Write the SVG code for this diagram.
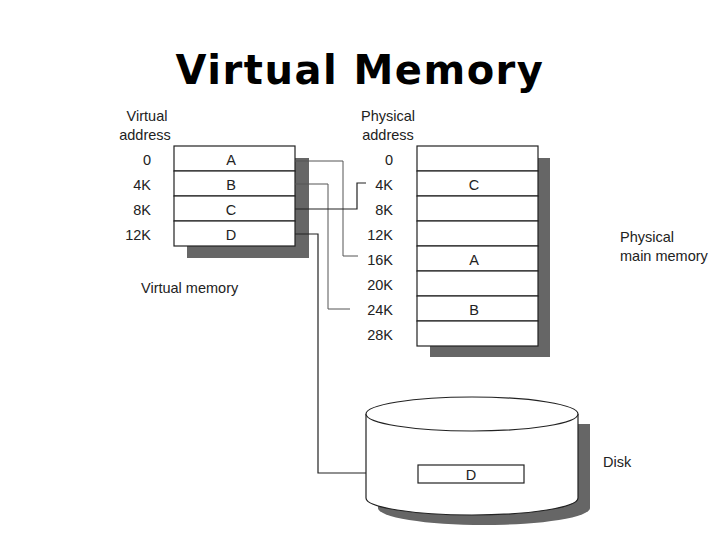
<svg xmlns="http://www.w3.org/2000/svg" width="720" height="540" viewBox="0 0 720 540">
<style>
text{font-family:"Liberation Sans",Arial,sans-serif;font-size:14.5px;fill:#222}
.c{text-anchor:middle}.r{text-anchor:end}
.cell{fill:#fff;stroke:#222;stroke-width:1.2}
.sh{fill:#666}
.ln{fill:none;stroke:#222;stroke-width:1.2}
.lg{fill:none;stroke:#555;stroke-width:1}
</style>
<rect width="720" height="540" fill="#fff"/>
<text x="360" y="84" class="c" style="font-family:'DejaVu Sans',sans-serif;font-size:40px;font-weight:bold;fill:#000;letter-spacing:1.5px">Virtual Memory</text>
<g id="virtual">
<rect class="sh" x="187" y="158" width="122" height="100"/>
<rect class="cell" x="174" y="146" width="121" height="25"/>
<rect class="cell" x="174" y="171" width="121" height="25"/>
<rect class="cell" x="174" y="196" width="121" height="25"/>
<rect class="cell" x="174" y="221" width="121" height="25"/>
<text x="231" y="165" class="c">A</text><text x="231" y="190" class="c">B</text><text x="231" y="215" class="c">C</text><text x="231" y="240" class="c">D</text>
<text x="147" y="121" class="c">Virtual</text><text x="145" y="140" class="c">address</text>
<text x="151" y="165" class="r">0</text><text x="151" y="190" class="r">4K</text><text x="151" y="215" class="r">8K</text><text x="151" y="240" class="r">12K</text>
<text x="141" y="293">Virtual memory</text>
</g>
<g id="physical">
<rect class="sh" x="430" y="158" width="120" height="199"/>
<rect class="cell" x="417" y="146" width="121" height="25"/>
<rect class="cell" x="417" y="171" width="121" height="25"/>
<rect class="cell" x="417" y="196" width="121" height="25"/>
<rect class="cell" x="417" y="221" width="121" height="25"/>
<rect class="cell" x="417" y="246" width="121" height="25"/>
<rect class="cell" x="417" y="271" width="121" height="25"/>
<rect class="cell" x="417" y="296" width="121" height="25"/>
<rect class="cell" x="417" y="321" width="121" height="25"/>
<text x="474" y="190" class="c">C</text><text x="474" y="265" class="c">A</text><text x="474" y="315" class="c">B</text>
<text x="388" y="121" class="c">Physical</text><text x="388" y="140" class="c">address</text>
<text x="393" y="165" class="r">0</text><text x="393" y="190" class="r">4K</text><text x="393" y="215" class="r">8K</text><text x="393" y="240" class="r">12K</text>
<text x="393" y="265" class="r">16K</text><text x="393" y="290" class="r">20K</text><text x="393" y="315" class="r">24K</text><text x="393" y="340" class="r">28K</text>
<text x="620" y="242">Physical</text><text x="620" y="261">main memory</text>
</g>
<g id="disk">
<path class="sh" d="M378 424 V508 A106 17 0 0 0 590 508 V424 Z"/>
<path d="M366 414 V498 A106 17 0 0 0 578 498 V414" fill="#fff" stroke="#222" stroke-width="1.2"/>
<ellipse cx="472" cy="414" rx="106" ry="17" fill="#fff" stroke="#222" stroke-width="1.2"/>
<rect class="cell" x="418" y="465" width="106" height="18"/>
<text x="471" y="480" class="c">D</text>
<text x="603" y="467">Disk</text>
</g>
<g id="connectors">
<polyline class="lg" points="295,161 343,161 343,256 358,256"/>
<polyline class="lg" points="295,184 328,184 328,309 350,309"/>
<polyline class="ln" points="295,209 357,209 357,183 366,183"/>
<polyline class="ln" points="295,234 318,234 318,473 366,473"/>
</g>
</svg>
